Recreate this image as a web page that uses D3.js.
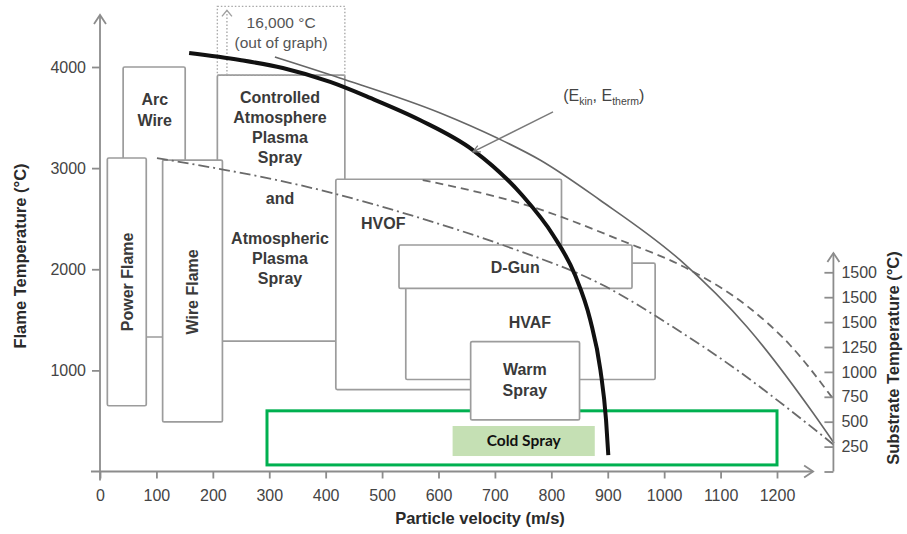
<!DOCTYPE html>
<html>
<head>
<meta charset="utf-8">
<script src="https://cdn.jsdelivr.net/npm/d3@7"></script>
<style>
  body { margin: 0; background: #fff; }
  svg { display: block; font-family: "Liberation Sans", Arial, sans-serif; }
</style>
</head>
<body>
<div id="chart"></div>
<script>
// tick labels
const velocityTicks = [0, 100, 200, 300, 400, 500, 600, 700, 800, 900, 1000, 1100, 1200];
const flameTicks = [1000, 2000, 3000, 4000];
const substrateTicks = ["", "250", "500", "750", "1000", "1250", "1500", "1500", "1500"];

// process windows: particle velocity (m/s) and flame temperature (°C)
const processes = ["Arc Wire", "Plasma Spray", "Power Flame", "Wire Flame", "HVOF", "HVAF", "D-Gun", "Warm Spray"];
const velLow   = [41, 208, 13, 111, 418, 542, 530, 657];
const velHigh  = [151, 434, 82, 217, 818, 984, 943, 850];
const tempLow  = [1330, 1290, 650, 490, 810, 910, 1810, 510];
const tempHigh = [4000, 3920, 3100, 3080, 2890, 2060, 2240, 1285];

const labelLines = [
  ["Arc", "Wire"],
  ["Controlled", "Atmosphere", "Plasma", "Spray", "", "and", "", "Atmospheric", "Plasma", "Spray"],
  ["Power Flame"], ["Wire Flame"], ["HVOF"], ["HVAF"], ["D-Gun"], ["Warm", "Spray"]
];
const labelVel  = [97, 319, 48, 163, 502, 762, 736, 753];
const labelTemp = [3576, 2804, 1875, 1776, 2458, 1479, 2023, 905];
const labelRotated = [false, false, true, true, false, false, false, false];

// plasma temperature above the graph
const outOfGraphVel = [208, 434];
const outOfGraphTemp = [3920, 4600];

// cold spray window
const coldVel = [296, 1200];
const coldTemp = [65, 600];
const coldLabelVel = [625, 877];
const coldLabelTemp = [153, 450];

// curves: [velocity, temperature]
const curveThick = [[158, 4138], [248, 4069], [324, 3990], [408, 3852], [479, 3694], [567, 3476],
  [661, 3179], [748, 2734], [803, 2339], [842, 1943], [869, 1498], [887, 1004], [897, 509], [901, 163]];
const curveSolid = [[310, 4099], [425, 3892], [603, 3546], [704, 3298], [780, 3080], [886, 2685],
  [1028, 2092], [1147, 1429], [1264, 578], [1301, 282]];
const curveDashed = [[572, 2882], [767, 2615], [922, 2289], [1046, 1992], [1147, 1636],
  [1223, 1251], [1301, 707]];
const curveDashDot = [[101, 3100], [390, 2784], [567, 2507], [721, 2225], [891, 1844],
  [1010, 1449], [1134, 984], [1223, 608], [1301, 262]];

const width = 907, height = 534;
const axisColor = "#8c8c8c", boxColor = "#9c9c9c", textColor = "#3a3a3a";

var x = d3.scaleLinear().domain([0, 1200]).range([100, 777]);
var y = d3.scaleLinear().domain([0, 4000]).range([471.5, 67]);
var ySub = d3.scaleLinear().domain([0, substrateTicks.length - 1]).range([y(0), y(1970)]);

var svg = d3.select("#chart").append("svg")
  .attr("width", width)
  .attr("height", height);

svg.append("defs").append("marker")
  .attr("id", "open-arrow")
  .attr("viewBox", "0 0 10 10")
  .attr("refX", 9).attr("refY", 5)
  .attr("markerWidth", 9).attr("markerHeight", 9)
  .attr("markerUnits", "userSpaceOnUse")
  .attr("orient", "auto")
  .append("path")
  .attr("d", "M1,1 L9,5 L1,9")
  .attr("fill", "none")
  .attr("stroke", "#7a7a7a")
  .attr("stroke-width", 1.4);

// boxes
var boxes = svg.append("g");
function drawBox(i) {
  boxes.append("rect")
    .attr("x", x(velLow[i]))
    .attr("y", y(tempHigh[i]))
    .attr("width", x(velHigh[i]) - x(velLow[i]))
    .attr("height", y(tempLow[i]) - y(tempHigh[i]))
    .attr("rx", 1.5)
    .attr("fill", "#fff")
    .attr("stroke", boxColor)
    .attr("stroke-width", 1.7);
}
[0, 1, 2, 3].forEach(drawBox);

// dotted "out of graph" box
boxes.append("rect")
  .attr("x", x(outOfGraphVel[0]))
  .attr("y", y(outOfGraphTemp[1]))
  .attr("width", x(outOfGraphVel[1]) - x(outOfGraphVel[0]))
  .attr("height", y(outOfGraphTemp[0]) - y(outOfGraphTemp[1]))
  .attr("fill", "none")
  .attr("stroke", "#a8a8a8")
  .attr("stroke-width", 1.4)
  .attr("stroke-dasharray", "1.5,2");
boxes.append("line")
  .attr("x1", x(225)).attr("x2", x(225))
  .attr("y1", y(outOfGraphTemp[0])).attr("y2", y(4560))
  .attr("stroke", "#a8a8a8")
  .attr("stroke-width", 1.4)
  .attr("stroke-dasharray", "1.5,2");
boxes.append("path")
  .attr("d", "M" + (x(225) - 5) + "," + (y(4560) + 6) + " L" + x(225) + "," + y(4560) + " L" + (x(225) + 5) + "," + (y(4560) + 6))
  .attr("fill", "none")
  .attr("stroke", "#a0a0a0")
  .attr("stroke-width", 1.4);
svg.append("g")
  .selectAll("text")
  .data(["16,000 \u00B0C", "(out of graph)"])
  .enter().append("text")
  .attr("x", x(321))
  .attr("y", (d, i) => 23 + i * 20)
  .attr("dy", "0.35em")
  .attr("text-anchor", "middle")
  .attr("font-size", 15.5)
  .attr("fill", "#555")
  .text(d => d);

[4, 5, 6].forEach(drawBox);

// cold spray
svg.append("rect")
  .attr("x", x(coldVel[0]))
  .attr("y", y(coldTemp[1]))
  .attr("width", x(coldVel[1]) - x(coldVel[0]))
  .attr("height", y(coldTemp[0]) - y(coldTemp[1]))
  .attr("fill", "none")
  .attr("stroke", "#00b050")
  .attr("stroke-width", 3);

boxes = svg.append("g");
drawBox(7);

svg.append("rect")
  .attr("x", x(coldLabelVel[0]))
  .attr("y", y(coldLabelTemp[1]))
  .attr("width", x(coldLabelVel[1]) - x(coldLabelVel[0]))
  .attr("height", y(coldLabelTemp[0]) - y(coldLabelTemp[1]))
  .attr("fill", "#c5e0b4");
svg.append("text")
  .attr("x", x((coldLabelVel[0] + coldLabelVel[1]) / 2))
  .attr("y", y((coldLabelTemp[0] + coldLabelTemp[1]) / 2))
  .attr("dy", "0.35em")
  .attr("text-anchor", "middle")
  .attr("font-family", "Lato, 'Open Sans', sans-serif")
  .attr("font-weight", 700)
  .attr("font-size", 15.5)
  .attr("fill", "#111")
  .text("Cold Spray");

// box labels
var labels = svg.append("g")
  .attr("font-weight", "bold")
  .attr("font-size", 16)
  .attr("fill", textColor)
  .attr("text-anchor", "middle");
processes.forEach(function (p, i) {
  var g = labels.append("g")
    .attr("transform", "translate(" + x(labelVel[i]) + "," + y(labelTemp[i]) + ")" + (labelRotated[i] ? " rotate(-90)" : ""));
  var n = labelLines[i].length;
  g.selectAll("text")
    .data(labelLines[i])
    .enter().append("text")
    .attr("y", (d, k) => (k - (n - 1) / 2) * 20.2)
    .attr("dy", "0.35em")
    .text(d => d);
});

// curves
var line = d3.line()
  .x(d => x(d[0]))
  .y(d => y(d[1]))
  .curve(d3.curveMonotoneX);

svg.append("path").datum(curveDashDot)
  .attr("d", line).attr("fill", "none")
  .attr("stroke", "#6a6a6a").attr("stroke-width", 1.8)
  .attr("stroke-dasharray", "11,4,2,4");
svg.append("path").datum(curveDashed)
  .attr("d", line).attr("fill", "none")
  .attr("stroke", "#6a6a6a").attr("stroke-width", 1.8)
  .attr("stroke-dasharray", "8,5");
svg.append("path").datum(curveSolid)
  .attr("d", line).attr("fill", "none")
  .attr("stroke", "#666").attr("stroke-width", 1.6);
svg.append("path").datum(curveThick)
  .attr("d", line).attr("fill", "none")
  .attr("stroke", "#111").attr("stroke-width", 4);

// (Ekin, Etherm) annotation
svg.append("line")
  .attr("x1", x(803)).attr("y1", y(3556))
  .attr("x2", x(661)).attr("y2", y(3160))
  .attr("stroke", "#7a7a7a")
  .attr("stroke-width", 1.4)
  .attr("marker-end", "url(#open-arrow)");
var ann = svg.append("text")
  .attr("x", x(821))
  .attr("y", y(3724))
  .attr("dy", "0.35em")
  .attr("font-size", 16)
  .attr("fill", "#444");
ann.append("tspan").text("(E");
ann.append("tspan").attr("font-size", 10.5).attr("dy", 4).text("kin");
ann.append("tspan").attr("dy", -4).text(", E");
ann.append("tspan").attr("font-size", 10.5).attr("dy", 4).text("therm");
ann.append("tspan").attr("dy", -4).text(")");

// axes
var axes = svg.append("g");
function arrowPath(px, py, dir) {
  if (dir === "up") return "M" + (px - 6) + "," + (py + 9) + " L" + px + "," + py + " L" + (px + 6) + "," + (py + 9);
  return "M" + (px - 9) + "," + (py - 6) + " L" + px + "," + py + " L" + (px - 9) + "," + (py + 6);
}
axes.append("line")
  .attr("x1", x(0)).attr("x2", x(0))
  .attr("y1", y(-90)).attr("y2", y(4515))
  .attr("stroke", axisColor).attr("stroke-width", 1.8);
axes.append("path").attr("d", arrowPath(x(0), y(4515), "up"))
  .attr("fill", "none").attr("stroke", axisColor).attr("stroke-width", 1.8);
axes.append("line")
  .attr("x1", x(-16)).attr("x2", x(1264))
  .attr("y1", y(0)).attr("y2", y(0))
  .attr("stroke", axisColor).attr("stroke-width", 1.8);
axes.append("path").attr("d", arrowPath(x(1264), y(0), "right"))
  .attr("fill", "none").attr("stroke", axisColor).attr("stroke-width", 1.8);
axes.append("line")
  .attr("x1", x(1300)).attr("x2", x(1300))
  .attr("y1", ySub(0)).attr("y2", 253)
  .attr("stroke", axisColor).attr("stroke-width", 1.8);
axes.append("path").attr("d", arrowPath(x(1300), 253, "up"))
  .attr("fill", "none").attr("stroke", axisColor).attr("stroke-width", 1.8);

var xAxis = svg.append("g")
  .attr("transform", "translate(0," + y(0) + ")")
  .call(d3.axisBottom(x).tickValues(velocityTicks).tickSize(7).tickPadding(11).tickFormat(d3.format("d")));
var yAxis = svg.append("g")
  .attr("transform", "translate(" + x(0) + ",0)")
  .call(d3.axisLeft(y).tickValues(flameTicks).tickSize(8).tickPadding(6).tickFormat(d3.format("d")));
var subAxis = svg.append("g")
  .attr("transform", "translate(" + x(1300) + ",0)")
  .call(d3.axisRight(ySub).tickValues(d3.range(substrateTicks.length)).tickSizeInner(-9).tickSizeOuter(0)
    .tickPadding(8).tickFormat(i => substrateTicks[i]));

[xAxis, yAxis, subAxis].forEach(function (a) {
  a.select(".domain").remove();
  a.selectAll(".tick line").attr("stroke", axisColor).attr("stroke-width", 1.8);
  a.selectAll(".tick text")
    .attr("font-family", "'Liberation Sans', Arial, sans-serif")
    .attr("font-size", 16)
    .attr("fill", "#444");
});

// axis titles
svg.append("text")
  .attr("x", 480).attr("y", 524)
  .attr("text-anchor", "middle")
  .attr("font-weight", "bold").attr("font-size", 16.5)
  .attr("fill", "#2a2a2a")
  .text("Particle velocity (m/s)");
svg.append("text")
  .attr("transform", "translate(20,256) rotate(-90)")
  .attr("dy", "0.35em")
  .attr("text-anchor", "middle")
  .attr("font-weight", "bold").attr("font-size", 16.5)
  .attr("fill", "#2a2a2a")
  .text("Flame Temperature (\u00B0C)");
svg.append("text")
  .attr("transform", "translate(893,358) rotate(-90)")
  .attr("dy", "0.35em")
  .attr("text-anchor", "middle")
  .attr("font-weight", "bold").attr("font-size", 16.5)
  .attr("fill", "#2a2a2a")
  .text("Substrate Temperature (\u00B0C)");
</script>
</body>
</html>
